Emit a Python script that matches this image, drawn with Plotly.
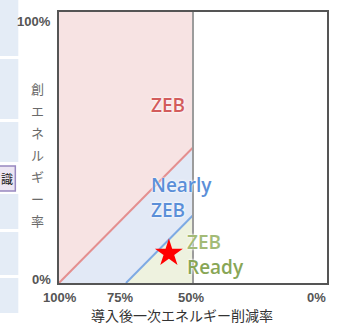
import plotly.graph_objects as go

# Axis ticks (percent)
reduction_ticks = [100, 75, 50, 0]
reduction_labels = ["100%", "75%", "50%", "0%"]
creation_ticks = [100, 0]
creation_labels = ["100%", "0%"]

# ZEB boundary: created energy equals remaining consumption
zeb_line_x = [100, 50]
zeb_line_y = [0, 50]
# Nearly ZEB boundary: reduction + creation reaches 75%
nearly_line_x = [75, 50]
nearly_line_y = [0, 25]
# 50% reduction threshold
threshold_x = [50, 50]
threshold_y = [0, 100]

# Example building
star_x = [59]
star_y = [11]

x_title = "導入後一次エネルギー削減率"
y_title = "創エネルギー率"

JP = "Noto Sans CJK JP, Noto Sans, sans-serif"
NUM = "Liberation Sans, Arial, sans-serif"
LBL = "Open Sans, Noto Sans, sans-serif"

PL, PR, PT, PB = 59, 9, 12, 42
W, H = 338, 325
PW, PH = W - PL - PR, H - PT - PB


def px_x(px):
    return (px - PL) / PW


def px_y(py):
    return (H - PB - py) / PH


fig = go.Figure()

# Region fills
fig.add_trace(go.Scatter(
    x=zeb_line_x + [threshold_x[1], zeb_line_x[0]],
    y=zeb_line_y + [threshold_y[1], threshold_y[1]],
    fill="toself", fillcolor="#f7e3e3", mode="none", hoverinfo="skip"))
fig.add_trace(go.Scatter(
    x=zeb_line_x + nearly_line_x[::-1],
    y=zeb_line_y + nearly_line_y[::-1],
    fill="toself", fillcolor="#e2e9f6", mode="none", hoverinfo="skip"))
fig.add_trace(go.Scatter(
    x=nearly_line_x + [threshold_x[0]],
    y=nearly_line_y + [threshold_y[0]],
    fill="toself", fillcolor="#eef2df", mode="none", hoverinfo="skip"))

# Boundary lines
fig.add_trace(go.Scatter(x=zeb_line_x, y=zeb_line_y, mode="lines",
                         line=dict(color="#e48f8f", width=2), hoverinfo="skip"))
fig.add_trace(go.Scatter(x=nearly_line_x, y=nearly_line_y, mode="lines",
                         line=dict(color="#7eaae4", width=2), hoverinfo="skip"))
fig.add_trace(go.Scatter(x=threshold_x, y=threshold_y, mode="lines",
                         line=dict(color="#9c9c9c", width=2), hoverinfo="skip"))

# Example building marker
fig.add_trace(go.Scatter(x=star_x, y=star_y, mode="markers",
                         marker=dict(symbol="star", size=21, color="#ff0000",
                                     line=dict(width=0)),
                         hoverinfo="skip"))

glow = "0px 0px 2px #ffffff, 0px 0px 3px #ffffff"
annotations = []


def region_label(text, x, y, color, anchor="left"):
    annotations.append(dict(
        x=x, y=y, xref="x", yref="y", text=text, showarrow=False,
        xanchor=anchor, yanchor="middle", align="left",
        font=dict(family=LBL, size=19, color=color, weight=600, shadow=glow)))


region_label("ZEB", 59.4, 65.7, "#d35c5c", anchor="center")
region_label("Nearly<br>ZEB", 66.3, 31.4, "#5b8fd8")
region_label('<span style="color:#a3bb77">ZEB</span><br>Ready', 53.0, 10.6, "#88a656")

# Tick labels
x_shift = {100: 1, 75: -6, 50: -2, 0: -11}
for v, t in zip(reduction_ticks, reduction_labels):
    annotations.append(dict(
        x=v, y=px_y(297), xref="x", yref="paper", text=t, showarrow=False,
        xanchor="center", yanchor="middle", xshift=x_shift[v], borderpad=0,
        font=dict(family=NUM, size=13, color="#555555", weight="bold")))
y_pos = {100: 21, 0: 279}
for v, t in zip(creation_ticks, creation_labels):
    annotations.append(dict(
        x=px_x(52), y=px_y(y_pos[v]), xref="paper", yref="paper", text=t,
        showarrow=False, xanchor="right", yanchor="middle", borderpad=0,
        font=dict(family=NUM, size=13, color="#555555", weight="bold")))

# Axis titles
annotations.append(dict(
    x=px_x(183), y=px_y(314.6), xref="paper", yref="paper", text=x_title,
    showarrow=False, xanchor="center", yanchor="middle", borderpad=0,
    font=dict(family=JP, size=14, color="#333333")))
for i, ch in enumerate(y_title):
    annotations.append(dict(
        x=px_x(37), y=px_y(88 + 22 * i), xref="paper", yref="paper", text=ch,
        showarrow=False, xanchor="center", yanchor="middle",
        font=dict(family=JP, size=13, color="#6a6a6a")))

# Side navigation strip at the left edge
shapes = []
for top, bottom in [(0, 56), (59, 119), (122, 162), (194, 229), (232, 275), (278, 313)]:
    shapes.append(dict(type="rect", xref="paper", yref="paper",
                       x0=px_x(-5), x1=px_x(18), y0=px_y(bottom), y1=px_y(top),
                       fillcolor="#e4ecf6", line=dict(width=0), layer="below"))
shapes.append(dict(type="rect", xref="paper", yref="paper",
                   x0=px_x(-5), x1=px_x(15), y0=px_y(191), y1=px_y(166),
                   fillcolor="#ece6f3", line=dict(color="#9888c0", width=1.5)))
annotations.append(dict(
    x=px_x(0), y=px_y(178.5), xref="paper", yref="paper", text="識",
    showarrow=False, xanchor="left", yanchor="middle", borderpad=0,
    font=dict(family=JP, size=12, color="#222222")))

fig.update_layout(
    width=W, height=H,
    margin=dict(l=PL, r=PR, t=PT, b=PB, pad=0),
    paper_bgcolor="#ffffff", plot_bgcolor="#ffffff",
    showlegend=False,
    annotations=annotations,
    shapes=shapes,
    xaxis=dict(range=[100, 0], showticklabels=False, ticks="", showgrid=False,
               zeroline=False, showline=True, mirror=True,
               linecolor="#555555", linewidth=1.5, fixedrange=True),
    yaxis=dict(range=[0, 100], showticklabels=False, ticks="", showgrid=False,
               zeroline=False, showline=True, mirror=True,
               linecolor="#555555", linewidth=1.5, fixedrange=True),
)

fig.write_html("out.html", config={"displayModeBar": False})
